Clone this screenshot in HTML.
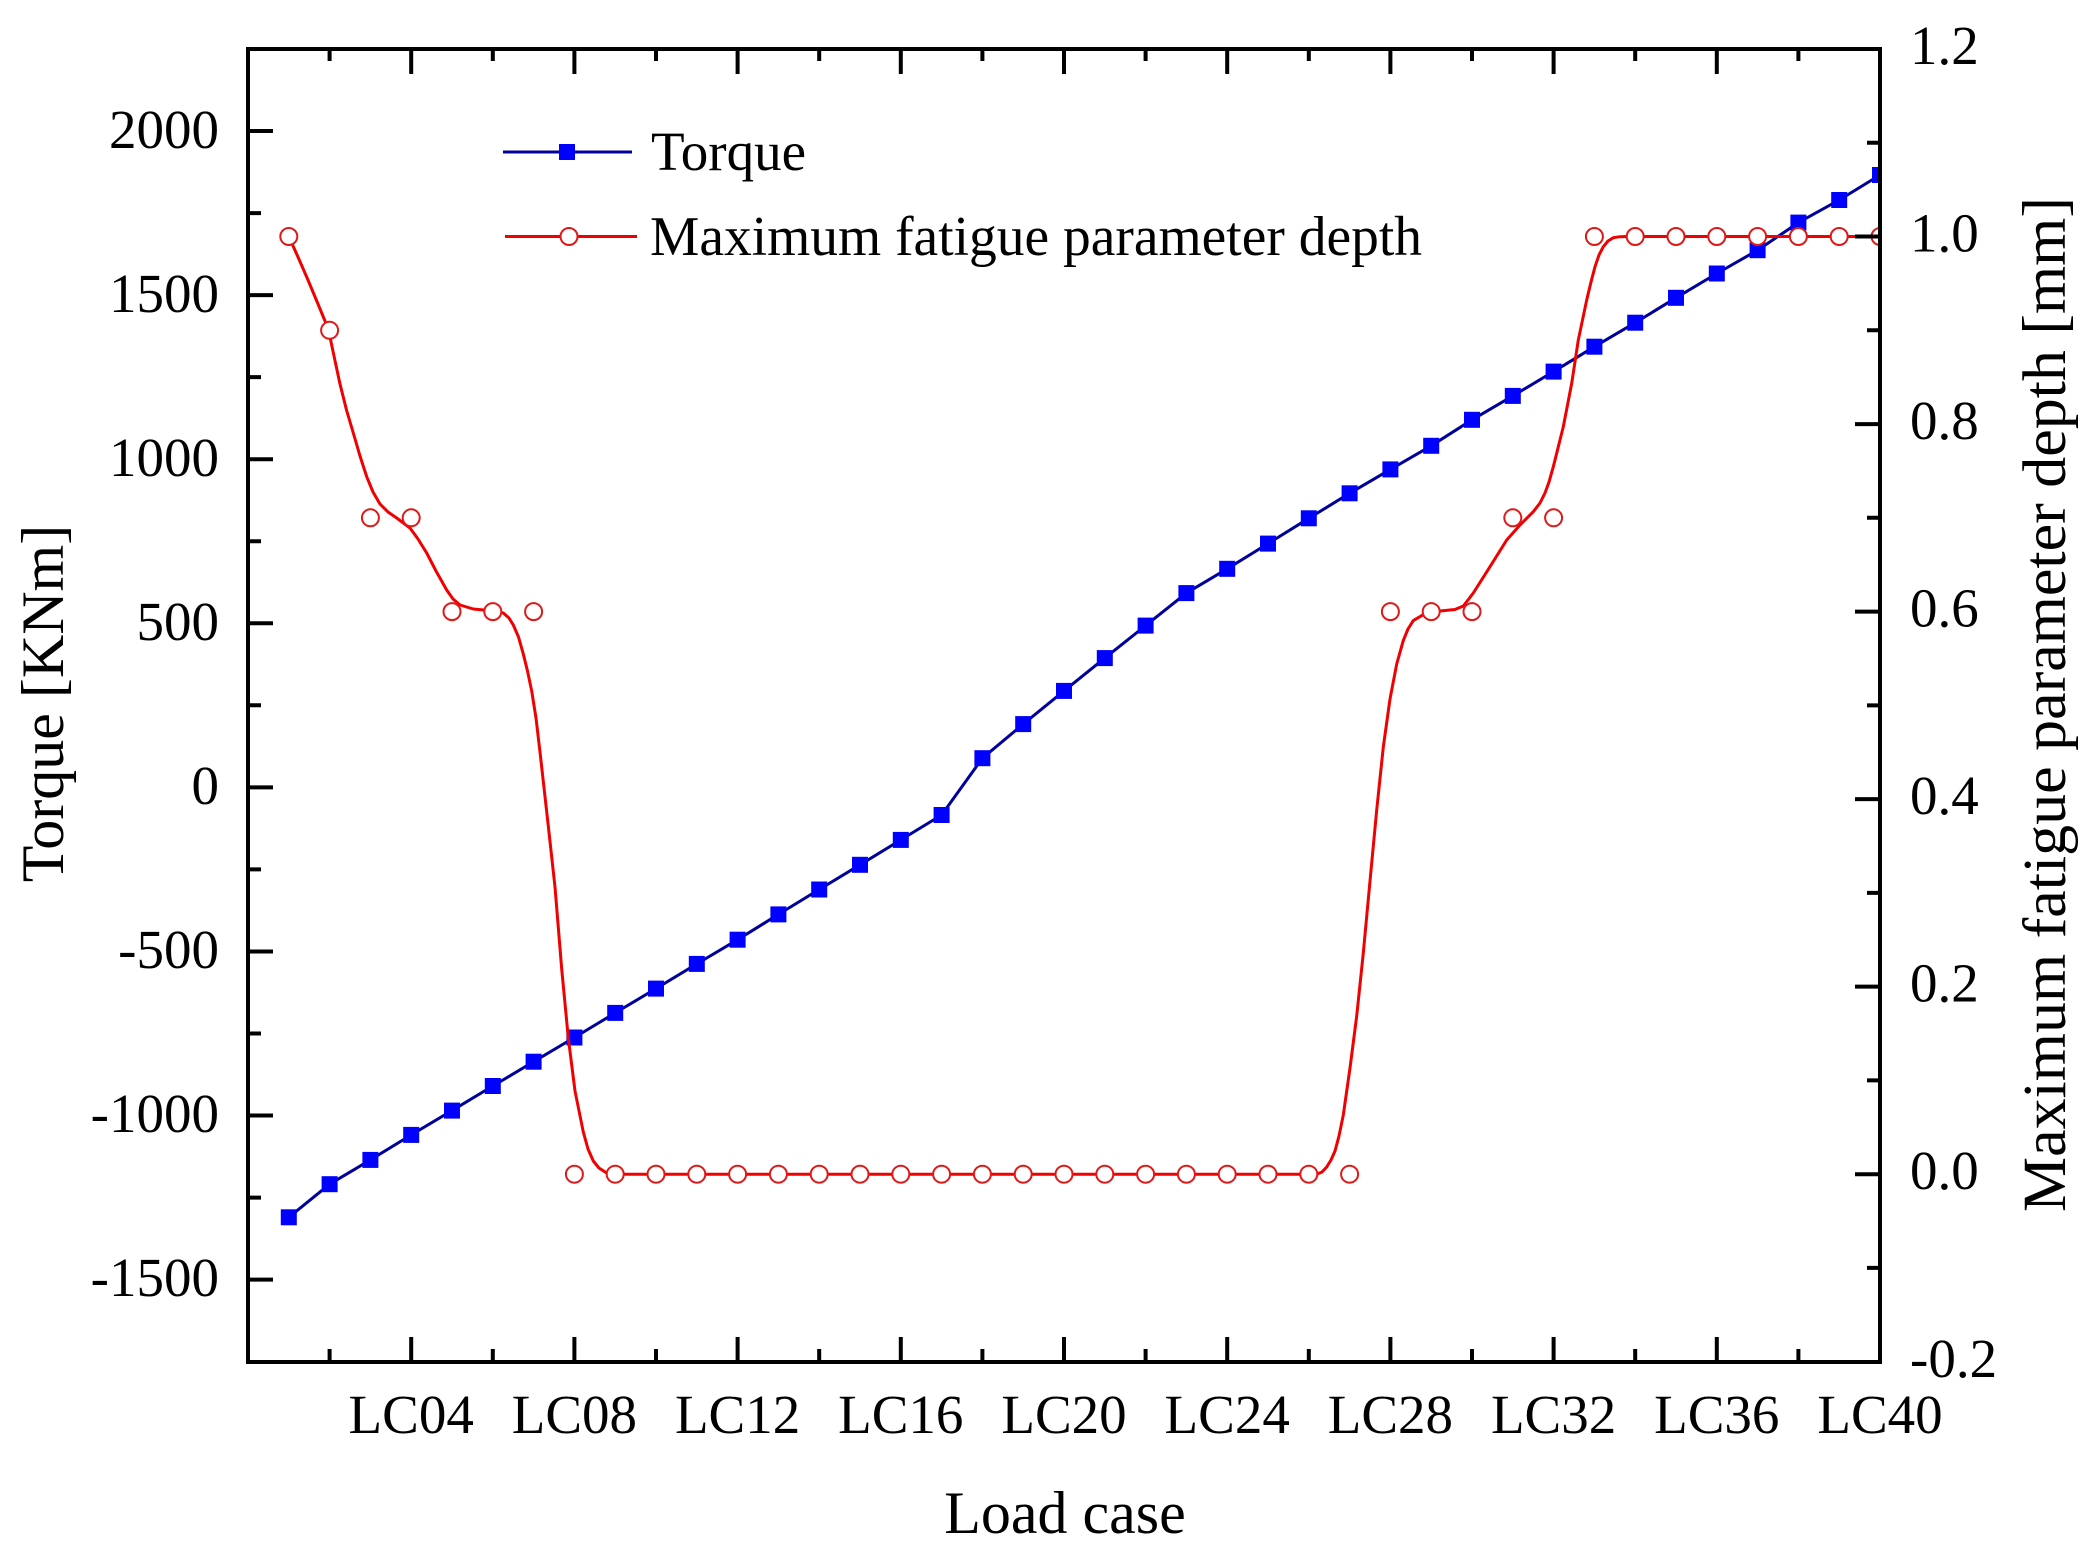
<!DOCTYPE html>
<html>
<head>
<meta charset="utf-8">
<style>
html,body{margin:0;padding:0;background:#fff;}
svg{display:block;}
text{font-family:"Liberation Serif","Times New Roman",serif;fill:#000;}
</style>
</head>
<body>
<svg width="2088" height="1553" viewBox="0 0 2088 1553" xmlns="http://www.w3.org/2000/svg">
<defs>
<clipPath id="plot"><rect x="248" y="49" width="1632" height="1313"/></clipPath>
<rect id="sq" x="-8" y="-8" width="16" height="16" fill="#0000ff"/>
<circle id="ci" r="8.5" fill="#fff" stroke="#e01818" stroke-width="2"/>
</defs>
<rect width="2088" height="1553" fill="#fff"/>
<g clip-path="url(#plot)">
<polyline fill="none" stroke="#00009a" stroke-width="3" stroke-linejoin="round" points="288.8,1217.3 329.6,1184.2 370.4,1159.9 411.2,1134.9 452,1110.6 492.8,1086 533.6,1061.7 574.4,1037.5 615.2,1012.9 656,988.6 696.8,963.9 737.6,939.7 778.4,914.4 819.2,889.5 860,864.8 900.8,839.9 941.6,815 982.4,758.2 1023.2,724.1 1064,690.9 1104.8,658.1 1145.6,625.6 1186.4,593.1 1227.2,568.8 1268,543.6 1308.8,518.3 1349.6,493.3 1390.4,469.4 1431.2,445.8 1472,419.8 1512.8,395.9 1553.6,371.6 1594.4,346.7 1635.2,322.7 1676,297.8 1716.8,273.5 1757.6,250.2 1798.4,222.6 1839.2,200 1880,175"/>
<use href="#sq" x="288.8" y="1217.3"/><use href="#sq" x="329.6" y="1184.2"/><use href="#sq" x="370.4" y="1159.9"/><use href="#sq" x="411.2" y="1134.9"/><use href="#sq" x="452" y="1110.6"/><use href="#sq" x="492.8" y="1086"/><use href="#sq" x="533.6" y="1061.7"/><use href="#sq" x="574.4" y="1037.5"/><use href="#sq" x="615.2" y="1012.9"/><use href="#sq" x="656" y="988.6"/>
<use href="#sq" x="696.8" y="963.9"/><use href="#sq" x="737.6" y="939.7"/><use href="#sq" x="778.4" y="914.4"/><use href="#sq" x="819.2" y="889.5"/><use href="#sq" x="860" y="864.8"/><use href="#sq" x="900.8" y="839.9"/><use href="#sq" x="941.6" y="815"/><use href="#sq" x="982.4" y="758.2"/><use href="#sq" x="1023.2" y="724.1"/><use href="#sq" x="1064" y="690.9"/>
<use href="#sq" x="1104.8" y="658.1"/><use href="#sq" x="1145.6" y="625.6"/><use href="#sq" x="1186.4" y="593.1"/><use href="#sq" x="1227.2" y="568.8"/><use href="#sq" x="1268" y="543.6"/><use href="#sq" x="1308.8" y="518.3"/><use href="#sq" x="1349.6" y="493.3"/><use href="#sq" x="1390.4" y="469.4"/><use href="#sq" x="1431.2" y="445.8"/><use href="#sq" x="1472" y="419.8"/>
<use href="#sq" x="1512.8" y="395.9"/><use href="#sq" x="1553.6" y="371.6"/><use href="#sq" x="1594.4" y="346.7"/><use href="#sq" x="1635.2" y="322.7"/><use href="#sq" x="1676" y="297.8"/><use href="#sq" x="1716.8" y="273.5"/><use href="#sq" x="1757.6" y="250.2"/><use href="#sq" x="1798.4" y="222.6"/><use href="#sq" x="1839.2" y="200"/><use href="#sq" x="1880" y="175"/>
<polyline fill="none" stroke="#f00000" stroke-width="3" stroke-linejoin="round" points="288.8,236.5 298,257 308,280 318,304 328.3,329 334,356 340,384 346.5,410 353.3,433 360,456 366.7,476.7 373,492 380,504 388,512 396.7,518 410,528 418,539 426.7,553 436,571 446.7,590 453,599 460,605 473.3,609 492,610.7 503.3,613 509,618 513.3,625 518.5,637 523.3,654 527.5,671 531.7,691 536,718 540,752 548.3,826 555,887 561.7,969 568.3,1038 575,1091 583.3,1132 588,1149 593.3,1161 599,1168 606.7,1173 620,1174.2 1316.7,1174.2 1322,1172 1326.7,1167 1331,1160 1335,1151 1339,1136 1343.3,1115 1350,1068 1356.7,1016 1363.3,953 1370,881 1376.7,810 1383.3,747 1390,699 1396.7,664 1403.3,640.5 1408,629 1413.3,620.6 1423.3,614.7 1440,611 1455,609.5 1463.3,606 1468,600 1473.3,593 1490,566.7 1506.7,540 1520,525 1533.3,511.7 1540,503 1545,493 1549,482 1553.3,466.7 1558,448 1563.3,426.7 1567.5,405 1571.7,383.3 1578.3,340 1586.7,300 1591,282 1595,266.7 1599,255 1603.3,246.7 1608,241 1613.3,237.7 1620,236.7 1626.7,236.5 1880,236.5"/>
<use href="#ci" x="288.8" y="236.5"/><use href="#ci" x="329.6" y="330.3"/><use href="#ci" x="370.4" y="517.8"/><use href="#ci" x="411.2" y="517.8"/><use href="#ci" x="452" y="611.6"/><use href="#ci" x="492.8" y="611.6"/><use href="#ci" x="533.6" y="611.6"/><use href="#ci" x="574.4" y="1174.2"/><use href="#ci" x="615.2" y="1174.2"/><use href="#ci" x="656" y="1174.2"/>
<use href="#ci" x="696.8" y="1174.2"/><use href="#ci" x="737.6" y="1174.2"/><use href="#ci" x="778.4" y="1174.2"/><use href="#ci" x="819.2" y="1174.2"/><use href="#ci" x="860" y="1174.2"/><use href="#ci" x="900.8" y="1174.2"/><use href="#ci" x="941.6" y="1174.2"/><use href="#ci" x="982.4" y="1174.2"/><use href="#ci" x="1023.2" y="1174.2"/><use href="#ci" x="1064" y="1174.2"/>
<use href="#ci" x="1104.8" y="1174.2"/><use href="#ci" x="1145.6" y="1174.2"/><use href="#ci" x="1186.4" y="1174.2"/><use href="#ci" x="1227.2" y="1174.2"/><use href="#ci" x="1268" y="1174.2"/><use href="#ci" x="1308.8" y="1174.2"/><use href="#ci" x="1349.6" y="1174.2"/><use href="#ci" x="1390.4" y="611.6"/><use href="#ci" x="1431.2" y="611.6"/><use href="#ci" x="1472" y="611.6"/>
<use href="#ci" x="1512.8" y="517.8"/><use href="#ci" x="1553.6" y="517.8"/><use href="#ci" x="1594.4" y="236.5"/><use href="#ci" x="1635.2" y="236.5"/><use href="#ci" x="1676" y="236.5"/><use href="#ci" x="1716.8" y="236.5"/><use href="#ci" x="1757.6" y="236.5"/><use href="#ci" x="1798.4" y="236.5"/><use href="#ci" x="1839.2" y="236.5"/><use href="#ci" x="1880" y="236.5"/>
</g>
<rect x="248" y="49" width="1632" height="1313" fill="none" stroke="#000" stroke-width="4"/>
<path stroke="#000" stroke-width="4" fill="none" d="M248 131h25M248 295.1h25M248 459.2h25M248 623.3h25M248 787.4h25M248 951.5h25M248 1115.5h25M248 1279.6h25
M248 213.1h13M248 377.1h13M248 541.3h13M248 705.3h13M248 869.4h13M248 1033.5h13M248 1197.6h13
M1880 236.5h-25M1880 424.1h-25M1880 611.6h-25M1880 799.1h-25M1880 986.6h-25M1880 1174.2h-25
M1880 142.8h-13M1880 330.3h-13M1880 517.8h-13M1880 705.4h-13M1880 892.9h-13M1880 1080.4h-13M1880 1267.9h-13
M411.2 1362v-25M574.4 1362v-25M737.6 1362v-25M900.8 1362v-25M1064 1362v-25M1227.2 1362v-25M1390.4 1362v-25M1553.6 1362v-25M1716.8 1362v-25
M329.6 1362v-13M492.8 1362v-13M656 1362v-13M819.2 1362v-13M982.4 1362v-13M1145.6 1362v-13M1308.8 1362v-13M1472 1362v-13M1635.2 1362v-13M1798.4 1362v-13
M411.2 49v25M574.4 49v25M737.6 49v25M900.8 49v25M1064 49v25M1227.2 49v25M1390.4 49v25M1553.6 49v25M1716.8 49v25
M329.6 49v12M492.8 49v12M656 49v12M819.2 49v12M982.4 49v12M1145.6 49v12M1308.8 49v12M1472 49v12M1635.2 49v12M1798.4 49v12"/>
<g font-size="55" text-anchor="end">
<text x="219" y="148">2000</text>
<text x="219" y="312">1500</text>
<text x="219" y="476">1000</text>
<text x="219" y="640">500</text>
<text x="219" y="804">0</text>
<text x="219" y="968">-500</text>
<text x="219" y="1132">-1000</text>
<text x="219" y="1296">-1500</text>
</g>
<g font-size="55">
<text x="1910" y="64">1.2</text>
<text x="1910" y="251.5">1.0</text>
<text x="1910" y="439">0.8</text>
<text x="1910" y="626.5">0.6</text>
<text x="1910" y="814">0.4</text>
<text x="1910" y="1001.5">0.2</text>
<text x="1910" y="1189">0.0</text>
<text x="1910" y="1377">-0.2</text>
</g>
<g font-size="55" text-anchor="middle">
<text x="411.2" y="1433">LC04</text>
<text x="574.4" y="1433">LC08</text>
<text x="737.6" y="1433">LC12</text>
<text x="900.8" y="1433">LC16</text>
<text x="1064" y="1433">LC20</text>
<text x="1227.2" y="1433">LC24</text>
<text x="1390.4" y="1433">LC28</text>
<text x="1553.6" y="1433">LC32</text>
<text x="1716.8" y="1433">LC36</text>
<text x="1880" y="1433">LC40</text>
</g>
<text x="1065" y="1533" font-size="60" text-anchor="middle">Load case</text>
<text transform="translate(63,703.5) rotate(-90)" font-size="60" text-anchor="middle">Torque [KNm]</text>
<text transform="translate(2065,704.5) rotate(-90)" font-size="61" text-anchor="middle" textLength="1015" lengthAdjust="spacingAndGlyphs">Maximum fatigue parameter depth [mm]</text>
<line x1="503" y1="152" x2="632" y2="152" stroke="#00009a" stroke-width="3"/>
<use href="#sq" x="567" y="152"/>
<text x="651" y="170" font-size="55">Torque</text>
<line x1="505" y1="236.5" x2="637" y2="236.5" stroke="#f00000" stroke-width="3"/>
<use href="#ci" x="569" y="236.5"/>
<text x="650" y="255" font-size="56" textLength="772" lengthAdjust="spacingAndGlyphs">Maximum fatigue parameter depth</text>
</svg>
</body>
</html>
